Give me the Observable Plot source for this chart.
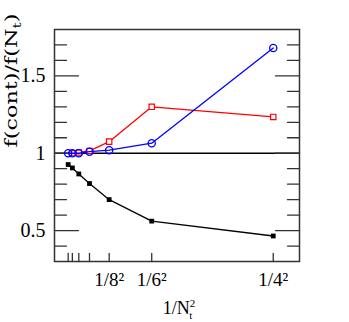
<!DOCTYPE html>
<html><head><meta charset="utf-8">
<script src="https://cdn.jsdelivr.net/npm/d3@7"></script>
<script src="https://cdn.jsdelivr.net/npm/@observablehq/plot@0.6"></script>
<style>body{margin:0;background:#fff}</style>
</head><body><div id="chart"></div>
<script>
// N_t values (x = 1/N_t^2)
const Nt = [16, 14, 12, 10, 8, 6, 4];
const blueVals = [1.0, 1.0, 1.0, 1.01, 1.02, 1.065, 1.68];
const redNt = [14, 12, 10, 8, 6, 4];
const redVals = [1.0, 1.005, 1.015, 1.075, 1.30, 1.235];
const blackVals = [0.927, 0.905, 0.866, 0.804, 0.70, 0.561, 0.465];
const majorXNt = [8, 6, 4];
const minorXNt = [16, 14, 12, 10];
const yMajor = [0.5, 1, 1.5];
const yMinor = [0.4, 0.6, 0.7, 0.8, 0.9, 1.1, 1.2, 1.3, 1.4, 1.6, 1.7];
const xLabel = "1/N";
const yLabel = "f(cont)/f(N";

const inv = n => 1 / (n * n);
const blue = Nt.map((n, i) => ({x: inv(n), y: blueVals[i]}));
const red = redNt.map((n, i) => ({x: inv(n), y: redVals[i]}));
const black = Nt.map((n, i) => ({x: inv(n), y: blackVals[i]}));
const xTicks = majorXNt.concat(minorXNt).map(inv);
const yTicksAll = yMajor.map(v => ({v, len: 10})).concat(yMinor.map(v => ({v, len: 5})));

const tickShape = {draw(context, l) { context.moveTo(0, 0); context.lineTo(0, -l); }};
const serif = "Liberation Serif";

const plot = Plot.plot({
  width: 349, height: 322,
  marginLeft: 54, marginRight: 50, marginTop: 29, marginBottom: 61,
  x: {domain: [0, 0.07]},
  y: {domain: [0.3, 1.8]},
  style: {fontFamily: serif, fontSize: "19px", background: "white", overflow: "visible"},
  marks: [
    Plot.ruleY([1], {stroke: "black", strokeWidth: 1.5}),
    // inward ticks
    Plot.vector(yTicksAll, {x: () => 0, y: "v", length: d => d.len, rotate: 90, anchor: "start", shape: tickShape, stroke: "#333", strokeWidth: 1.3}),
    Plot.vector(yTicksAll, {x: () => 0.07, y: "v", length: d => d.len, rotate: -90, anchor: "start", shape: tickShape, stroke: "#333", strokeWidth: 1.3}),
    Plot.vector(xTicks, {x: d => d, y: () => 0.3, length: 8, rotate: 0, anchor: "start", shape: tickShape, stroke: "#333", strokeWidth: 1.3}),
    Plot.axisY(yMajor, {anchor: "left", tickSize: 0, tickPadding: 9, label: null, fontSize: 20, fontFamily: serif,
      tickFormat: d => String(d)}),
    Plot.axisX(majorXNt.map(inv), {anchor: "bottom", tickSize: 0, tickPadding: 11, label: null, fontSize: 19, fontFamily: serif,
      tickFormat: d => "1/" + Math.round(1 / Math.sqrt(d)) + "\u00b2"}),
    Plot.line(black, {x: "x", y: "y", stroke: "black", strokeWidth: 1.3}),
    Plot.dot(black, {x: "x", y: "y", symbol: "square", r: 2.7, fill: "black"}),
    Plot.line(red, {x: "x", y: "y", stroke: "#ff0000", strokeWidth: 1.3}),
    Plot.dot(red, {x: "x", y: "y", symbol: "square", r: 3, stroke: "#ff0000", fill: "white", strokeWidth: 1.2}),
    Plot.line(blue, {x: "x", y: "y", stroke: "#0000ff", strokeWidth: 1.3}),
    Plot.dot(blue, {x: "x", y: "y", r: 3.6, stroke: "#0000ff", fill: "none", strokeWidth: 1.3}),
    Plot.frame({stroke: "#333", strokeWidth: 1.5}),
    Plot.text([yLabel], {frameAnchor: "left", dx: -43, dy: 2, rotate: -90, fontSize: 16, fontFamily: "DejaVu Serif", fill: "black"}),
    Plot.text([xLabel], {frameAnchor: "bottom", dx: 2, dy: 52, fontSize: 18, fontFamily: serif, fill: "black"})
  ]
});
document.getElementById("chart").appendChild(plot);

const svg = d3.select(plot);
svg.selectAll("text").each(function() {
  const t = d3.select(this);
  const s = t.text();
  if (s === yLabel) {
    t.text(yLabel);
    t.append("tspan").attr("font-size", "11px").attr("dy", "4").text("t");
    t.append("tspan").attr("dy", "-4").text(")");
    t.attr("textLength", 134).attr("lengthAdjust", "spacingAndGlyphs");
  } else if (s === xLabel) {
    t.text(xLabel);
    t.append("tspan").attr("font-size", "11px").attr("dy", "-7").text("2");
    t.append("tspan").attr("font-size", "11px").attr("dx", "-6").attr("dy", "12").text("t");
  }
});
</script>
</body></html>
